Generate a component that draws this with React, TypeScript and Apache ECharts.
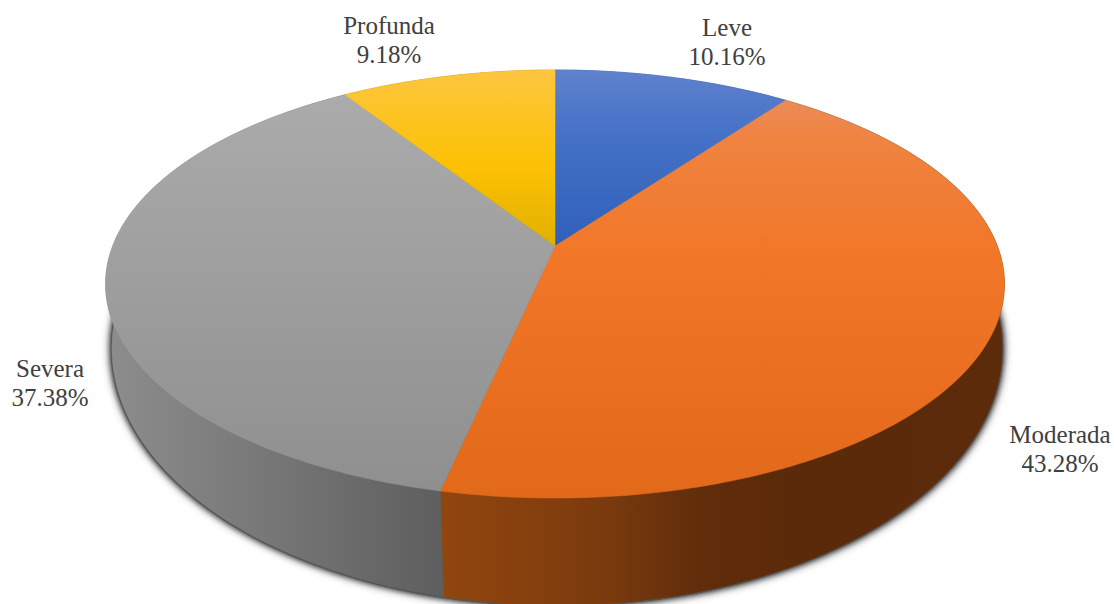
import React, { useEffect, useRef } from "react";
import * as echarts from "echarts";

// Severity shares, clockwise from twelve o'clock
const categories = ["Leve", "Moderada", "Severa", "Profunda"];
const shares = [10.16, 43.28, 37.38, 9.18];

// Vertical gradient of each slice's upper face
const topStops = [
  [[0, "#5f82cc"], [0.35, "#4672c8"], [1, "#2f60b9"]],
  [[0, "#ec8b57"], [0.1, "#ef8340"], [0.4, "#f27627"], [1, "#e2681a"]],
  [[0, "#ababab"], [0.4, "#a0a0a0"], [1, "#8f8f8f"]],
  [[0, "#fdc640"], [0.55, "#fcc103"], [1, "#e0b000"]],
];

// Horizontal gradient of each slice's side wall
const wallStops = [
  [[0, "#2a4a86"], [1, "#2a4a86"]],
  [[0, "#91460f"], [0.28, "#7c3b0d"], [0.46, "#612d0b"], [0.65, "#5a2a0a"], [1, "#5c2b0a"]],
  [[0, "#8d8d8d"], [0.5, "#767676"], [1, "#5e5e5e"]],
  [[0, "#a88000"], [1, "#a88000"]],
];

// Label centres in pixels
const labelCentres = [
  [727, 42],
  [1060, 449],
  [50, 383],
  [389, 40],
];

// Perspective projection of the pie's two circular rims
const topRim = { cx: 555, cy: 246, a: 442.3, b: 207.3, k: 0.1776 };
const bottomRim = { cx: 557, cy: 303, a: 438, b: 248.5, k: 0.1776 };

type Rim = typeof topRim;

const project = (rim: Rim, angle: number): number[] => {
  const u = Math.sin(angle);
  const v = Math.cos(angle);
  const d = 1 + rim.k * v;
  return [rim.cx + (rim.a * u) / d, rim.cy - (rim.b * v) / d];
};

const arc = (rim: Rim, from: number, to: number): number[][] => {
  const steps = Math.max(2, Math.ceil(((to - from) * 180) / Math.PI));
  const pts: number[][] = [];
  for (let i = 0; i <= steps; i++) pts.push(project(rim, from + ((to - from) * i) / steps));
  return pts;
};

const total = shares.reduce((s, v) => s + v, 0);
const tableRows = shares.map((value, i) => [
  value,
  shares.slice(0, i).reduce((s, v) => s + v, 0),
]);

const sliceAngles = (api: any): number[] => {
  const value = api.value(0);
  const before = api.value(1);
  return [(before / total) * Math.PI * 2, ((before + value) / total) * Math.PI * 2];
};

const gradient = (stops: any[], horizontal: boolean) =>
  new echarts.graphic.LinearGradient(
    0,
    0,
    horizontal ? 1 : 0,
    horizontal ? 0 : 1,
    stops.map(([offset, color]) => ({ offset, color }))
  );

// Soft contact shadow cast around the base of the pie: stacked blurs build up its density
const renderShadow = (params: any) => {
  if (params.dataIndex !== 0) return { type: "group", children: [] };
  const grown = { ...bottomRim, a: bottomRim.a + 1, b: bottomRim.b + 1 };
  const points = arc(grown, 0, Math.PI * 2);
  return {
    type: "group",
    children: [
      {
        type: "polygon",
        shape: { points },
        style: { fill: "#555555", shadowBlur: 10, shadowColor: "rgba(20,20,20,0.9)" },
      },
      {
        type: "polygon",
        shape: { points },
        style: { fill: "#555555", shadowBlur: 5, shadowColor: "rgba(20,20,20,0.9)" },
      },
    ],
  };
};

const renderWall = (params: any, api: any) => {
  const [from, to] = sliceAngles(api);
  const points = [...arc(topRim, from, to), ...arc(bottomRim, from, to).reverse()];
  const fill = gradient(wallStops[params.dataIndex], true);
  return { type: "polygon", shape: { points }, style: { fill, stroke: fill, lineWidth: 0.5 } };
};

const renderTop = (params: any, api: any) => {
  const [from, to] = sliceAngles(api);
  const points = [[topRim.cx, topRim.cy], ...arc(topRim, from, to)];
  const fill = gradient(topStops[params.dataIndex], false);
  return { type: "polygon", shape: { points }, style: { fill, stroke: fill, lineWidth: 0.5 } };
};

const renderLabel = (params: any, api: any) => {
  const [x, y] = labelCentres[params.dataIndex];
  return {
    type: "text",
    x,
    y,
    style: {
      text: `${categories[params.dataIndex]}\n${api.value(0).toFixed(2)}%`,
      fontFamily: "'Liberation Serif', serif",
      fontSize: 25,
      lineHeight: 28.5,
      fill: "#404040",
      align: "center",
      verticalAlign: "middle",
    },
  };
};

const layer = (name: string, renderItem: any, z: number) => ({
  type: "custom",
  name,
  coordinateSystem: "none",
  renderItem,
  data: tableRows,
  z,
  silent: true,
});

export default function App() {
  const ref = useRef<HTMLDivElement>(null);

  useEffect(() => {
    const chart = echarts.init(ref.current, undefined, { renderer: "svg" });
    chart.setOption({
      animation: false,
      backgroundColor: "#ffffff",
      series: [
        layer("shadow", renderShadow, 1),
        layer("walls", renderWall, 2),
        layer("tops", renderTop, 3),
        layer("labels", renderLabel, 4),
      ],
    });
    return () => chart.dispose();
  }, []);

  return (
    <div
      ref={ref}
      style={{ position: "absolute", left: 0, top: 0, width: 1114, height: 604, overflow: "hidden" }}
    />
  );
}
